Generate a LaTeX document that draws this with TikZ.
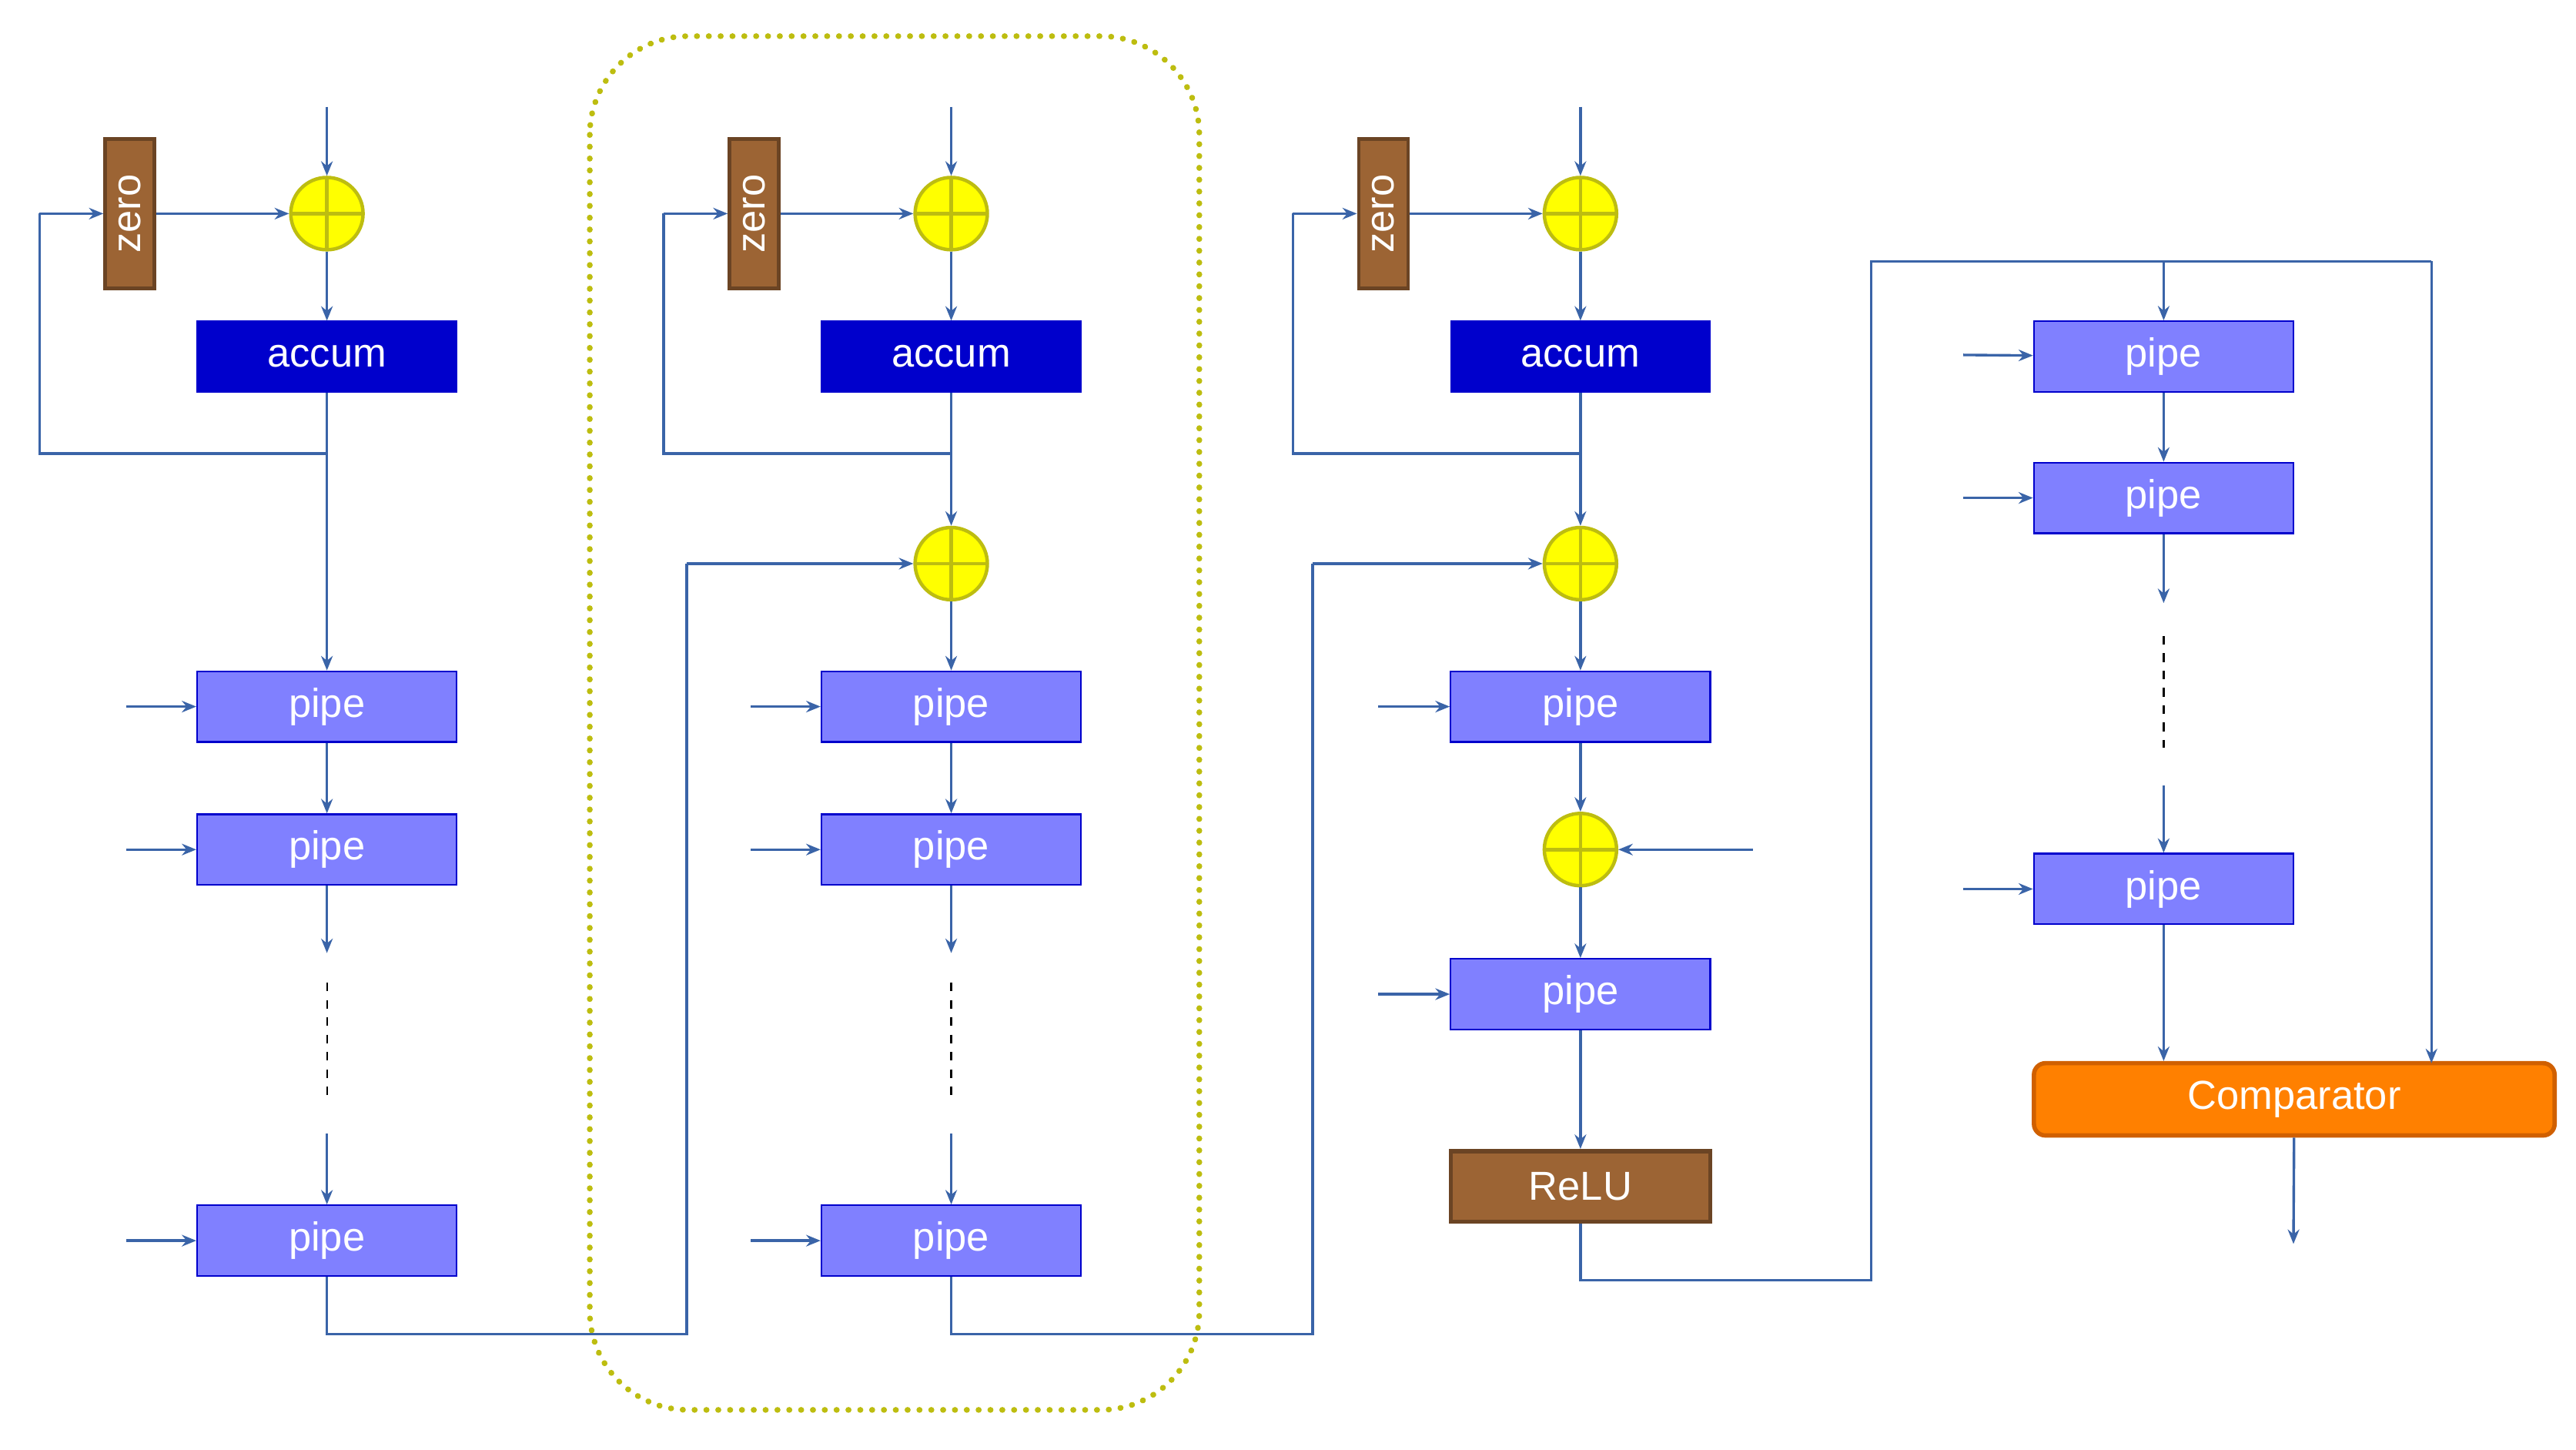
\documentclass[tikz,border=0pt]{standalone}
\usepackage{fontspec}
\setmainfont{Liberation Sans}
\usetikzlibrary{arrows.meta}
\definecolor{ln}{HTML}{3A64A8}
\definecolor{pipef}{HTML}{8080FF}
\definecolor{accf}{HTML}{0000CC}
\definecolor{brn}{HTML}{9C6434}
\definecolor{brnd}{HTML}{6B4424}
\definecolor{yel}{HTML}{FFFF00}
\definecolor{yeld}{HTML}{BDBD10}
\definecolor{org}{HTML}{FF8000}
\definecolor{orgd}{HTML}{D06000}
\begin{document}
\begin{tikzpicture}[x=0.02cm,y=-0.02cm,
  every node/.style={font=\fontsize{14}{16}\selectfont, text=white, inner sep=0pt},
  pipe/.style={draw=blue!80!black, fill=pipef, line width=0.6pt, minimum width=3.16cm, minimum height=0.86cm},
  accum/.style={draw=accf, fill=accf, minimum width=3.16cm, minimum height=0.86cm},
  zero/.style={draw=brnd, fill=brn, line width=1.2pt, rotate=90, minimum width=1.82cm, minimum height=0.6cm},
  relu/.style={draw=brnd, fill=brn, line width=1.5pt, minimum width=3.16cm, minimum height=0.86cm, text=white},
  add/.style={circle, draw=yeld, fill=yel, line width=1.2pt, minimum size=0.88cm,
    path picture={\draw[yeld, line width=1.2pt] (path picture bounding box.north) -- (path picture bounding box.south) (path picture bounding box.west) -- (path picture bounding box.east);}},
  ar/.style={draw=ln, line width=0.9pt, -{Stealth[length=5pt,width=4pt]}},
  ln/.style={draw=ln, line width=0.9pt},
  dsh/.style={draw=black, line width=0.6pt, dash pattern=on 3pt off 3pt}]
\useasboundingbox (0,0) rectangle (1568,882);
\draw[yeld, line width=2pt, dash pattern=on 0.1pt off 4pt, line cap=round, rounded corners=1.2cm] (359,22) rectangle (730,858);

% column template
\foreach \c/\x in {a/199,b/579,c/962}{
  \coordinate (\c top) at (\x,65);
  \node[add] (\c s) at (\x,130) {};
  \node[zero] (\c z) at (\x-120,130) {zero};
  \node[accum] (\c acc) at (\x,217) {accum};
  \coordinate (\c fb) at (\x,276);
  \coordinate (\c fl) at (\x-175,276);
  \coordinate (\c fu) at (\x-175,130);
  \draw[ar] (\c top) -- (\c s);
  \draw[ar] (\c z.south) -- (\c s);
  \draw[ar] (\c s) -- (\c acc);
  \draw[ln] (\c acc) -- (\c fb) -- (\c fl) -- (\c fu);
  \draw[ar] (\c fu) -- (\c z.north);
}
% columns a and b pipes
\foreach \c/\x in {a/199,b/579}{
  \node[pipe] (\c p1) at (\x,430) {pipe};
  \node[pipe] (\c p2) at (\x,517) {pipe};
  \node[pipe] (\c p3) at (\x,755) {pipe};
  \coordinate (\c d1) at (\x,580);
  \coordinate (\c d2) at (\x,690);
  \coordinate (\c i1) at (\x-122,430);
  \coordinate (\c i2) at (\x-122,517);
  \coordinate (\c i3) at (\x-122,755);
  \draw[ar] (\c i1) -- (\c p1);
  \draw[ar] (\c i2) -- (\c p2);
  \draw[ar] (\c i3) -- (\c p3);
  \draw[ar] (\c p1) -- (\c p2);
  \draw[ar] (\c p2) -- (\c d1);
  \draw[dsh] (\x,598) -- (\x,668);
  \draw[ar] (\c d2) -- (\c p3);
}
\draw[ar] (afb) -- (ap1);
\node[add] (bs2) at (579,343) {};
\draw[ar] (bfb) -- (bs2);
\draw[ar] (bs2) -- (bp1);
\coordinate (ao1) at (199,812); \coordinate (ao2) at (418,812); \coordinate (ao3) at (418,343);
\draw[ln] (ap3) -- (ao1) -- (ao2) -- (ao3);
\draw[ar] (ao3) -- (bs2);
% column c
\node[add] (cs2) at (962,343) {};
\node[pipe] (cp1) at (962,430) {pipe};
\node[add] (cs3) at (962,517) {};
\node[pipe] (cp2) at (962,605) {pipe};
\node[relu] (relu) at (962,722) {ReLU};
\coordinate (ci1) at (839,430); \coordinate (ci2) at (839,605); \coordinate (ci3) at (1067,517);
\draw[ar] (cfb) -- (cs2);
\draw[ar] (cs2) -- (cp1);
\draw[ar] (cp1) -- (cs3);
\draw[ar] (cs3) -- (cp2);
\draw[ar] (cp2) -- (relu);
\draw[ar] (ci1) -- (cp1);
\draw[ar] (ci2) -- (cp2);
\draw[ar] (ci3) -- (cs3);
\coordinate (bo1) at (579,812); \coordinate (bo2) at (799,812); \coordinate (bo3) at (799,343);
\draw[ln] (bp3) -- (bo1) -- (bo2) -- (bo3);
\draw[ar] (bo3) -- (cs2);
% column d
\node[pipe] (dp1) at (1317,217) {pipe};
\node[pipe] (dp2) at (1317,303) {pipe};
\node[pipe] (dp3) at (1317,541) {pipe};
\node[draw=orgd, fill=org, line width=1.5pt, rounded corners=4pt, minimum width=6.34cm, minimum height=0.88cm] (cmp) at (1396.5,669) {Comparator};
\coordinate (r1) at (962,779); \coordinate (r2) at (1139,779); \coordinate (r3) at (1139,159);
\coordinate (r4) at (1317,159); \coordinate (r5) at (1480,159); \coordinate (r6) at (1480,647);
\draw[ln] (relu) -- (r1) -- (r2) -- (r3) -- (r5);
\draw[ar] (r5) -- (r6);
\draw[ar] (r4) -- (dp1);
\draw[ar] (dp1) -- (dp2);
\coordinate (dd1) at (1317,367); \coordinate (dd2) at (1317,478);
\draw[ar] (dp2) -- (dd1);
\draw[dsh] (1317,387) -- (1317,455);
\draw[ar] (dd2) -- (dp3);
\draw[ar] (dp3) -- (dp3 |- cmp.north);
\coordinate (di1) at (1195,216); \coordinate (di2) at (1195,303); \coordinate (di3) at (1195,541);
\draw[ar] (di1) -- (dp1);
\draw[ar] (di2) -- (dp2);
\draw[ar] (di3) -- (dp3);
\coordinate (out) at (1396,757);
\draw[ar] (cmp) -- (out);
\end{tikzpicture}
\end{document}
